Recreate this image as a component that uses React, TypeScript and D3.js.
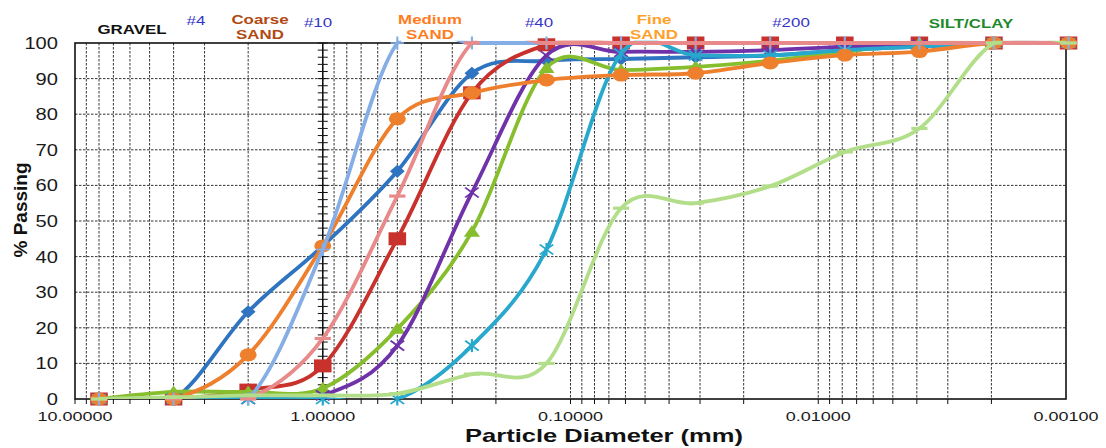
import React from "react";
import * as d3 from "d3";

// ---------- data ----------
const diameters = [8, 4, 2, 1, 0.5, 0.25, 0.125, 0.0625, 0.03125, 0.015625, 0.0078125, 0.00390625, 0.001953125, 0.0009765625];

const sampleA = [0, 0, 24.5, 43, 64, 91.5, 95, 95.5, 96, 96.5, 98, 99, 100, 100];
const sampleB = [0, 0, 2.5, 9.3, 45, 86, 99.5, 100, 100, 100, 100, 100, 100, 100];
const sampleC = [0, 2, 2, 3, 19.7, 47, 93, 92.4, 93.3, 95, 97.5, 100, 100, 100];
const sampleD = [0, 0, 0, 1, 15, 58, 96.5, 97.5, 97.5, 98, 99, 99.5, 100, 100];
const sampleE = [0, 0, 0, 0, 0, 15, 42, 97, 96.5, 96.5, 98, 99, 100, 100];
const sampleF = [0, 0, 12.4, 43, 78.7, 86, 89.6, 91, 91.5, 94.4, 96.6, 97.6, 100, 100];
const sampleG = [0, 0, 0, 42, 100, 100, 100, 100, 100, 100, 100, 100, 100, 100];
const sampleH = [0, 0, 0, 17, 57, 100, 100, 100, 100, 100, 100, 100, 100, 100];
const sampleI = [0, 0.5, 1, 1, 1.5, 7, 10, 53.6, 55, 59.8, 69.4, 76, 100, 100];

const decadeTicks = [10, 1, 0.1, 0.01, 0.001];
const decadeLabels = ["10.00000", "1.00000", "0.10000", "0.01000", "0.00100"];
const yTicks = [0, 10, 20, 30, 40, 50, 60, 70, 80, 90, 100];

type Marker = "diamond" | "square" | "triangle" | "x" | "asterisk" | "circle" | "plus" | "dash";

const seriesList: { values: number[]; color: string; marker: Marker }[] = [
  { values: sampleA, color: "#2E74C0", marker: "diamond" },
  { values: sampleB, color: "#C8312C", marker: "square" },
  { values: sampleC, color: "#86BE2E", marker: "triangle" },
  { values: sampleD, color: "#7032A8", marker: "x" },
  { values: sampleE, color: "#27A8CC", marker: "asterisk" },
  { values: sampleF, color: "#EE7F2D", marker: "circle" },
  { values: sampleG, color: "#86AEE6", marker: "plus" },
  { values: sampleH, color: "#E98A8A", marker: "dash" },
  { values: sampleI, color: "#B2DE8A", marker: "dash" },
];

const zoneLabels = [
  { lines: ["GRAVEL"], x: 132, y: 34, color: "#111", bold: true },
  { lines: ["#4"], x: 196, y: 25, color: "#3535C8", bold: false },
  { lines: ["Coarse", "SAND"], x: 260, y: 24, color: "#B04A12", bold: true },
  { lines: ["#10"], x: 318, y: 27, color: "#3535C8", bold: false },
  { lines: ["Medium", "SAND"], x: 430, y: 24, color: "#FF7D22", bold: true },
  { lines: ["#40"], x: 539, y: 27, color: "#3535C8", bold: false },
  { lines: ["Fine", "SAND"], x: 654, y: 24, color: "#FFA02A", bold: true },
  { lines: ["#200"], x: 791, y: 27, color: "#3535C8", bold: false },
  { lines: ["SILT/CLAY"], x: 971, y: 28, color: "#1E8A2C", bold: true },
];

const W = 1106;
const H = 448;
const L = 75, R = 1066, T = 43, B = 399;
const FONT = "Arial, 'Liberation Sans', Helvetica, sans-serif";

function MarkerShape({ type, color, cx, cy }: { type: Marker; color: string; cx: number; cy: number }) {
  const tr = `translate(${cx},${cy}) scale(1.35,1)`;
  switch (type) {
    case "diamond":
      return <path transform={tr} d="M0,-6.5L5.5,0L0,6.5L-5.5,0Z" fill={color} />;
    case "square":
      return <rect transform={tr} x={-6.5} y={-6.5} width={13} height={13} fill={color} />;
    case "triangle":
      return <path transform={tr} d="M0,-6.5L6,5L-6,5Z" fill={color} />;
    case "x":
      return (
        <g transform={tr} stroke={color} strokeWidth={1.6}>
          <line x1={-5} y1={-5} x2={5} y2={5} />
          <line x1={-5} y1={5} x2={5} y2={-5} />
        </g>
      );
    case "asterisk":
      return (
        <g transform={tr} stroke={color} strokeWidth={1.6}>
          <line x1={-5} y1={-5} x2={5} y2={5} />
          <line x1={-5} y1={5} x2={5} y2={-5} />
          <line x1={0} y1={-6.5} x2={0} y2={6.5} />
        </g>
      );
    case "circle":
      return <ellipse cx={cx} cy={cy} rx={8.5} ry={6.5} fill={color} />;
    case "plus":
      return (
        <g transform={tr} stroke={color} strokeWidth={1.6}>
          <line x1={-5} y1={0} x2={5} y2={0} />
          <line x1={0} y1={-6.5} x2={0} y2={6.5} />
        </g>
      );
    case "dash":
      return <rect transform={tr} x={-6} y={-1.6} width={12} height={3.2} fill={color} />;
  }
  return null;
}

export default function App() {
  const x = d3.scaleLog().domain([10, 0.001]).range([L, R]);
  const y = d3.scaleLinear().domain([0, 100]).range([B, T]);

  const minorTicks: number[] = [];
  for (let e = -3; e <= 0; e++) {
    for (let k = 1; k <= 9; k++) {
      const v = k * Math.pow(10, e);
      if (v > 0.001 * 1.0001) minorTicks.push(v);
    }
  }
  minorTicks.push(10);

  const line = d3
    .line<[number, number]>()
    .x((d) => x(d[0]))
    .y((d) => y(d[1]))
    .curve(d3.curveCardinal.tension(0));

  const axisTicks: number[] = d3.range(0, 101, 2);

  return (
    <svg
      width={W}
      height={H}
      viewBox={`0 0 ${W} ${H}`}
      style={{ position: "absolute", left: 0, top: 0, display: "block", background: "#fff" }}
      fontFamily={FONT}
    >
      <defs>
        <clipPath id="plotclip">
          <rect x={L} y={T - 2.2} width={R - L} height={B - T + 2.2} />
        </clipPath>
      </defs>
      <rect x={0} y={0} width={W} height={H} fill="#fff" />

      {/* grid */}
      <g stroke="#111" strokeWidth={1} strokeDasharray="2.5,1.5" opacity={0.85}>
        {yTicks.slice(1, -1).map((t) => (
          <line key={"h" + t} x1={L} x2={R} y1={y(t)} y2={y(t)} />
        ))}
        {minorTicks
          .filter((v) => v < 10 && v > 0.001 * 1.0001)
          .map((v) => (
            <line key={"v" + v} x1={x(v)} x2={x(v)} y1={T} y2={B} />
          ))}
      </g>

      {/* bottom ticks */}
      <g stroke="#111" strokeWidth={1}>
        {minorTicks.map((v) => (
          <line key={"bt" + v} x1={x(v)} x2={x(v)} y1={B} y2={B + 5} />
        ))}
      </g>

      {/* secondary axis at 1.0 mm */}
      <g stroke="#111" strokeWidth={1}>
        <line x1={x(1)} x2={x(1)} y1={T} y2={B} strokeWidth={1.5} />
        {axisTicks.map((t) => (
          <line key={"at" + t} x1={x(1) - 5} x2={x(1) + 5} y1={y(t)} y2={y(t)} />
        ))}
      </g>

      {/* frame */}
      <rect x={L} y={T} width={R - L} height={B - T} fill="none" stroke="#111" strokeWidth={1.6} />

      {/* series */}
      {seriesList.map((s, i) => {
        const pts: [number, number][] = diameters.map((d, j) => [d, s.values[j]]);
        return (
          <g key={"s" + i}>
            <path
              d={line(pts) || ""}
              fill="none"
              stroke={s.color}
              strokeWidth={3.8}
              strokeLinejoin="round"
              clipPath="url(#plotclip)"
            />
            {pts.map((p, j) => (
              <MarkerShape key={j} type={s.marker} color={s.color} cx={x(p[0])} cy={y(p[1])} />
            ))}
          </g>
        );
      })}

      {/* y tick labels */}
      {yTicks.map((t) => (
        <text
          key={"yl" + t}
          transform={`translate(58,${y(t) + 6}) scale(1.22,1)`}
          textAnchor="end"
          fontSize={16.5}
          fill="#1a1a1a"
        >
          {t}
        </text>
      ))}

      {/* x tick labels */}
      {decadeTicks.map((v, i) => (
        <text
          key={"xl" + v}
          transform={`translate(${x(v)},421) scale(1.5,1)`}
          textAnchor="middle"
          fontSize={12}
          fill="#1a1a1a"
        >
          {decadeLabels[i]}
        </text>
      ))}

      {/* axis titles */}
      <text
        transform="translate(604,442) scale(1.38,1)"
        textAnchor="middle"
        fontSize={18.5}
        fontWeight="bold"
        fill="#111"
      >
        Particle Diameter (mm)
      </text>
      <text
        transform="translate(27,210) rotate(-90)"
        textAnchor="middle"
        fontSize={19}
        fontWeight="bold"
        fill="#111"
      >
        % Passing
      </text>

      {/* zone labels */}
      {zoneLabels.map((z, i) => (
        <g key={"z" + i}>
          {z.lines.map((ln, k) => (
            <text
              key={k}
              transform={`translate(${z.x},${z.y + k * 15}) scale(1.3,1)`}
              textAnchor="middle"
              fontSize={13}
              fontWeight={z.bold ? "bold" : "normal"}
              fill={z.color}
            >
              {ln}
            </text>
          ))}
        </g>
      ))}
    </svg>
  );
}
